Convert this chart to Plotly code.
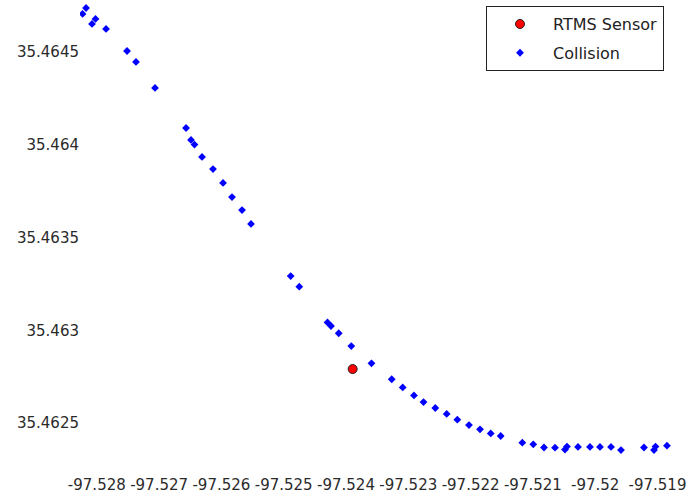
import plotly.graph_objects as go

# RTMS sensor location
sensor_lon = [-97.523893]
sensor_lat = [35.462791]

# Collision locations
collision_lon = [
    -97.528229, -97.528173, -97.528077, -97.528021, -97.527852, -97.527515,
    -97.527371, -97.527066, -97.526568, -97.526488, -97.526432, -97.526311,
    -97.526135, -97.525974, -97.525830, -97.525669, -97.525525, -97.524888,
    -97.524750, -97.524297, -97.524241, -97.524117, -97.523915, -97.523591,
    -97.523266, -97.523090, -97.522909, -97.522756, -97.522567, -97.522384,
    -97.522213, -97.522026, -97.521849, -97.521677, -97.521517, -97.521170,
    -97.520994, -97.520822, -97.520645, -97.520485, -97.520453, -97.520276,
    -97.520084, -97.519923, -97.519746, -97.519586, -97.519217, -97.519056,
    -97.519032, -97.518848,
]
collision_lat = [
    35.464705, 35.464737, 35.464651, 35.464678, 35.464624, 35.464505,
    35.464446, 35.464306, 35.464090, 35.464026, 35.464001, 35.463934,
    35.463869, 35.463794, 35.463718, 35.463648, 35.463573, 35.463292,
    35.463235, 35.463042, 35.463023, 35.462984, 35.462915, 35.462822,
    35.462736, 35.462692, 35.462649, 35.462613, 35.462581, 35.462549,
    35.462518, 35.462489, 35.462466, 35.462444, 35.462430, 35.462394,
    35.462385, 35.462368, 35.462367, 35.462357, 35.462373, 35.462371,
    35.462371, 35.462371, 35.462371, 35.462354, 35.462368, 35.462354,
    35.462373, 35.462378,
]

x_tickvals = [-97.528, -97.527, -97.526, -97.525, -97.524, -97.523, -97.522, -97.521, -97.520, -97.519]
x_ticktext = ["-97.528", "-97.527", "-97.526", "-97.525", "-97.524", "-97.523", "-97.522", "-97.521", "-97.52", "-97.519"]
y_tickvals = [35.4625, 35.463, 35.4635, 35.464, 35.4645]
y_ticktext = ["35.4625", "35.463", "35.4635", "35.464", "35.4645"]

fig = go.Figure()
fig.add_trace(go.Scatter(
    x=sensor_lon, y=sensor_lat, mode="markers", name="RTMS Sensor",
    legendgroup="a",
    marker=dict(symbol="circle", size=9, color="#ff0000", line=dict(color="#222222", width=1)),
))
fig.add_trace(go.Scatter(
    x=collision_lon, y=collision_lat, mode="markers", name="Collision",
    legendgroup="b",
    marker=dict(symbol="diamond", size=6, color="#0000ff", line=dict(width=0)),
))

fig.update_layout(
    width=691, height=497,
    margin=dict(l=80, r=17, t=0, b=30),
    paper_bgcolor="white", plot_bgcolor="white",
    font=dict(family="DejaVu Sans", size=15, color="#2a2a2a"),
    showlegend=True,
    legend=dict(
        x=0.6835, y=0.987, xanchor="left", yanchor="top",
        bordercolor="#222222", borderwidth=1, bgcolor="white",
        font=dict(size=16, color="#222222"),
        traceorder="grouped", tracegroupgap=5, itemwidth=56,
    ),
    xaxis=dict(
        range=[-97.52827, -97.518735], showgrid=False, zeroline=False,
        showline=False, ticks="", tickvals=x_tickvals, ticktext=x_ticktext,
        ticklabelstandoff=7,
    ),
    yaxis=dict(
        range=[35.462263, 35.46478], showgrid=False, zeroline=False,
        showline=False, ticks="", tickvals=y_tickvals, ticktext=y_ticktext,
    ),
)

fig.write_html("out.html")
